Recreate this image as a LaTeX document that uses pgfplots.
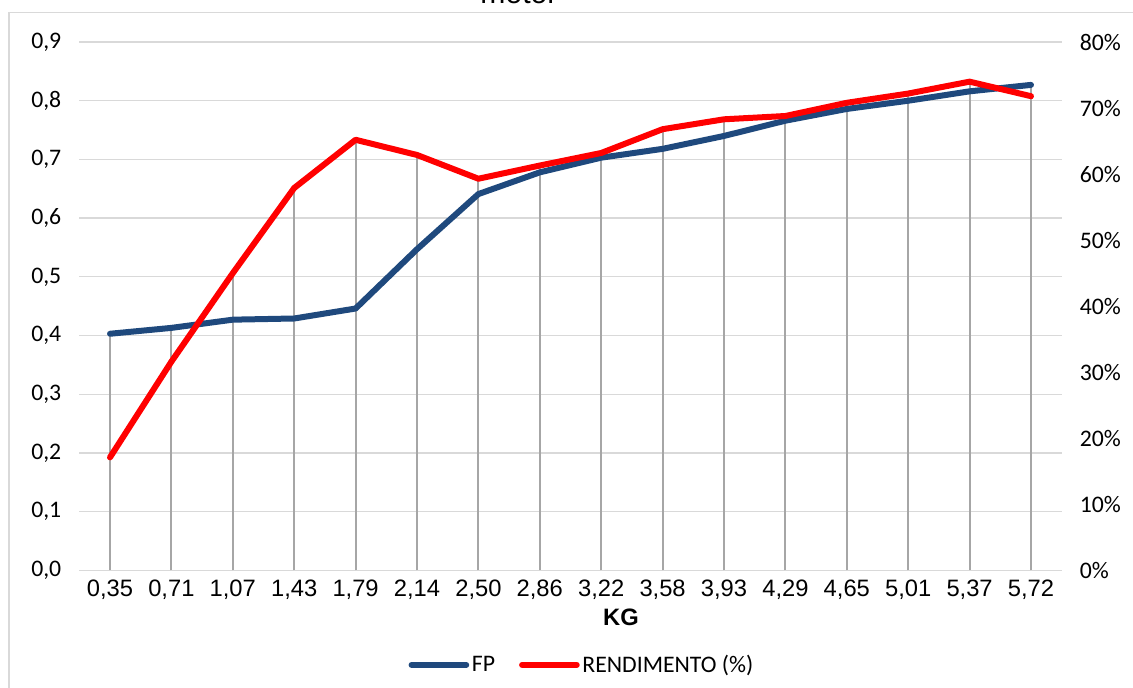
\documentclass[border=0pt]{standalone}
\usepackage{pgfplots}
\pgfplotsset{compat=1.18}
\usepackage{pgfplotstable}
\usepackage{fontspec}
\setmainfont{Carlito}
\newfontfamily\arial{Liberation Sans}
\definecolor{fpblue}{RGB}{31,73,125}
\definecolor{gridgray}{RGB}{217,217,217}
\definecolor{dropgray}{RGB}{166,166,166}
\newcommand\fs{\fontsize{17.8}{21}\selectfont}

\pgfplotstableread{
x fp drop
0 0.403 0.403
1 0.413 0.413
2 0.427 0.506
3 0.429 0.651
4 0.446 0.734
5 0.547 0.708
6 0.641 0.667
7 0.678 0.690
8 0.703 0.711
9 0.718 0.752
10 0.740 0.768
11 0.766 0.774
12 0.786 0.797
13 0.800 0.812
14 0.816 0.833
15 0.827 0.827
}\fptable

\pgfplotstableread{
x r
0 17.1
1 31.6
2 45.0
3 57.9
4 65.2
5 62.9
6 59.3
7 61.3
8 63.2
9 66.8
10 68.3
11 68.8
12 70.8
13 72.2
14 74.0
15 71.8
}\rtable

\begin{document}
\begin{tikzpicture}[x=0.75pt,y=0.75pt]
\draw[gridgray, line width=1pt] (9,-20) -- (9,674.3) -- (1160,674.3);
\node[font=\arial\fontsize{22.6}{26}\selectfont, anchor=base] at (519,683) {motor};
\begin{axis}[
  at={(59.475pt,87.525pt)}, anchor=south west,
  scale only axis, width=736.8pt, height=396.2pt,
  xmin=-0.5, xmax=15.5, ymin=0, ymax=0.9,
  axis line style={draw=none},
  major tick length=0pt,
  xtick=data,
  xticklabels={{0,35},{0,71},{1,07},{1,43},{1,79},{2,14},{2,50},{2,86},{3,22},{3,58},{3,93},{4,29},{4,65},{5,01},{5,37},{5,72}},
  x tick label style={font=\arial\fs, yshift=-4pt},
  ytick={0,0.1,0.2,0.3,0.4,0.5,0.6,0.7,0.8,0.9},
  yticklabels={{0,0},{0,1},{0,2},{0,3},{0,4},{0,5},{0,6},{0,7},{0,8},{0,9}},
  y tick label style={font=\fs, anchor=east, xshift=-10pt},
  ymajorgrids,
  grid style={gridgray, line width=1pt},
  xlabel={\arial\bfseries KG},
  xlabel style={font=\fs},
  x label style={at={(axis description cs:0.5514,-0.0884)}, anchor=center},
]
\addplot[ycomb, dropgray, line width=1.5pt, no markers] table[x=x,y=drop]{\fptable};
\addplot[fpblue, line width=4.5pt, line cap=round, line join=round, no markers] table[x=x,y=fp]{\fptable};
\end{axis}
\begin{axis}[
  at={(59.475pt,87.525pt)}, anchor=south west,
  scale only axis, width=736.8pt, height=396.2pt,
  xmin=-0.5, xmax=15.5, ymin=0, ymax=80,
  axis line style={draw=none},
  major tick length=0pt,
  xtick=\empty,
  yticklabel pos=right,
  ytick={0,10,20,30,40,50,60,70,80},
  yticklabels={0\%,10\%,20\%,30\%,40\%,50\%,60\%,70\%,80\%},
  y tick label style={font=\fs, anchor=west, xshift=10pt},
  legend columns=2,
  legend style={at={(0.512,-0.179)}, anchor=center, draw=none, fill=none, font=\fs,
    /tikz/every even column/.append style={column sep=16pt}},
  legend cell align=left,
  legend image code/.code={\draw[#1] (0pt,0pt) -- (41pt,0pt);},
]
\addlegendimage{fpblue, line width=4.5pt, line cap=round}
\addlegendentry{FP}
\addplot[red, line width=4.5pt, line cap=round, line join=round, no markers] table[x=x,y=r]{\rtable};
\addlegendentry{RENDIMENTO (\%)}
\end{axis}
\pgfresetboundingbox
\useasboundingbox (0,0) rectangle (1133,687);
\end{tikzpicture}
\end{document}
